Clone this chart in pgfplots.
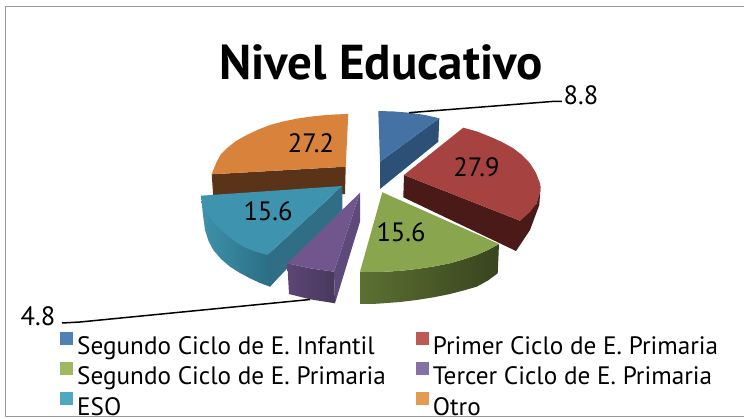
\documentclass[border=0pt]{standalone}
\usepackage{fontspec}
\setmainfont{PT Sans}
\usepackage{pgfplots}
\pgfplotsset{compat=1.18}
\begin{document}
\begin{tikzpicture}[x=1pt,y=1pt]
\useasboundingbox (0,0) rectangle (744pt,419pt);
\begin{axis}[
  at={(0pt,0pt)},anchor=south west,
  width=744pt,height=419pt,scale only axis,
  xmin=0,xmax=744,ymin=0,ymax=419,y dir=reverse,
  hide axis,clip=true,
  every axis plot/.append style={forget plot,draw=none,line join=round},
  legend columns=2,
  legend cell align=left,
  legend image code/.code={\path[draw=none,fill=none] (0pt,0pt) rectangle (13pt,1pt);\fill[#1,draw=none,overlay] (0pt,1pt) rectangle (13pt,14pt);},
  legend style={draw=none,fill=none,at={(axis cs:60,335.5)},anchor=north west,inner sep=0pt,
    font=\fontsize{25.2}{29}\selectfont,
    nodes={inner sep=0pt,text height=19pt,text depth=1pt},
    /tikz/column sep=4pt,row sep=10.3pt},
]
% chart frame
\addplot[draw=black!40,line width=1.2pt,sharp plot] coordinates {(760,6.5) (5.7,6.5) (5.7,416.5) (760,416.5)};
% Otro
\addplot[fill={rgb,255:red,90;green,51;blue,24}] coordinates {(211.7,174.3) (345.7,166.7) (345,194) (213.3,197)} -- cycle;
\addplot[fill={rgb,255:red,216;green,130;blue,60}] coordinates {(348.3,114) (336,114.4) (323.3,115.3) (310,116.7) (296.7,118.7) (283,121.5) (270,125) (258,129.7) (246.7,135) (236,141) (226.7,148.3) (221,154) (216.7,161.7) (211.7,174.3) (345.7,166.7)} -- cycle;
% ESO
\addplot[left color={rgb,255:red,62;green,146;blue,170},right color={rgb,255:red,40;green,108;blue,130}] coordinates {(201,195.7) (203,215) (205,230) (208.5,241) (213.3,250) (221,259) (230,266.7) (240,273) (250,278.3) (260,283) (270,286.7) (275,280) (272,255) (267.3,250)} -- cycle;
\addplot[fill={rgb,255:red,47;green,110;blue,132}] coordinates {(342.3,186) (342.3,210) (270,286.7) (267.3,255)} -- cycle;
\addplot[fill={rgb,255:red,62;green,148;blue,174}] coordinates {(342.3,186) (267.3,255) (255,251.5) (243.3,246.7) (233,240) (223.3,231.7) (215,224) (208.3,215) (203.5,206) (201,195.7)} -- cycle;
% Tercer ciclo
\addplot[fill={rgb,255:red,94;green,74;blue,122}] coordinates {(360,192.7) (360,221.7) (335,303.3) (334,271.7)} -- cycle;
\addplot[left color={rgb,255:red,92;green,70;blue,118},right color={rgb,255:red,72;green,56;blue,92}] coordinates {(287.3,263.3) (310,268.3) (334,271.7) (335,303.3) (310,299.3) (289,294)} -- cycle;
\addplot[fill={rgb,255:red,112;green,86;blue,140}] coordinates {(360,192.7) (334,271.7) (310,268.3) (287.3,263.3)} -- cycle;
% Segundo ciclo primaria
\addplot[left color={rgb,255:red,92;green,112;blue,50},right color={rgb,255:red,56;green,68;blue,30}] coordinates {(360,271.7) (373,272) (386.7,271.7) (401.5,270.7) (416.7,269) (433.5,266.5) (450,263.3) (463,259.5) (476.7,255) (488,250) (499,244) (497.7,273.3) (488,280.5) (476.7,286.7) (463.5,290.5) (450,294) (433.5,297.3) (416.7,300) (400,302) (383.3,303.3) (372,304) (360,304)} -- cycle;
\addplot[fill={rgb,255:red,137;green,166;blue,78}] coordinates {(382.3,192.3) (499,244) (488,250) (476.7,255) (463,259.5) (450,263.3) (433.5,266.5) (416.7,269) (401.5,270.7) (386.7,271.7) (373,272) (360,271.7)} -- cycle;
% Segundo ciclo infantil
\addplot[fill={rgb,255:red,45;green,80;blue,119}] coordinates {(439.3,118.3) (438.3,141.7) (380,189) (380,161.7)} -- cycle;
\addplot[fill={rgb,255:red,69;green,114;blue,165}] coordinates {(378.3,111) (394,111.5) (409.3,112.7) (425,115) (439.3,118.3) (380,161.7)} -- cycle;
% Primer ciclo
\addplot[fill={rgb,255:red,74;green,26;blue,24}] coordinates {(404,175) (520,220.7) (536.7,203.3) (540.7,185) (539.3,205) (530,230) (516,251) (403.3,197.3)} -- cycle;
\addplot[fill={rgb,255:red,166;green,67;blue,64}] coordinates {(463.3,127.7) (477,131.5) (490,136.7) (502,142) (513.3,148.3) (522,155) (530,163.3) (536,173) (540,183.3) (540,193) (536.7,203.3) (529.5,212.5) (520,220.7) (404,175)} -- cycle;
% leader lines
\addplot[draw=black,line width=1.5pt,sharp plot] coordinates {(409,112.7) (552,101.5) (562,101.5)};
\addplot[draw=black,line width=1.5pt,sharp plot] coordinates {(62,323) (80,322) (310,299.5)};
% legend
\addlegendimage{fill={rgb,255:red,79;green,129;blue,181}}
\addlegendentry{Segundo Ciclo de E. Infantil}
\addlegendimage{fill={rgb,255:red,189;green,90;blue,82}}
\addlegendentry{Primer Ciclo de E. Primaria}
\addlegendimage{fill={rgb,255:red,160;green,184;blue,96}}
\addlegendentry{Segundo Ciclo de E. Primaria\rule{26pt}{0pt}}
\addlegendimage{fill={rgb,255:red,135;green,112;blue,165}}
\addlegendentry{Tercer Ciclo de E. Primaria}
\addlegendimage{fill={rgb,255:red,79;green,168;blue,191}}
\addlegendentry{ESO}
\addlegendimage{fill={rgb,255:red,229;green,154;blue,80}}
\addlegendentry{Otro}
% text
\node[font=\fontsize{49}{52}\bfseries\selectfont] at (axis cs:381,62) {Nivel Educativo};
\node[font=\fontsize{26.5}{30}\selectfont] at (axis cs:311,143) {27.2};
\node[font=\fontsize{26.5}{30}\selectfont] at (axis cs:268,211) {15.6};
\node[font=\fontsize{26.5}{30}\selectfont] at (axis cs:476.5,167) {27.9};
\node[font=\fontsize{26.5}{30}\selectfont] at (axis cs:401,232) {15.6};
\node[font=\fontsize{26.5}{30}\selectfont] at (axis cs:581,95) {8.8};
\node[font=\fontsize{26.5}{30}\selectfont] at (axis cs:38,316) {4.8};
\end{axis}
\end{tikzpicture}
\end{document}
